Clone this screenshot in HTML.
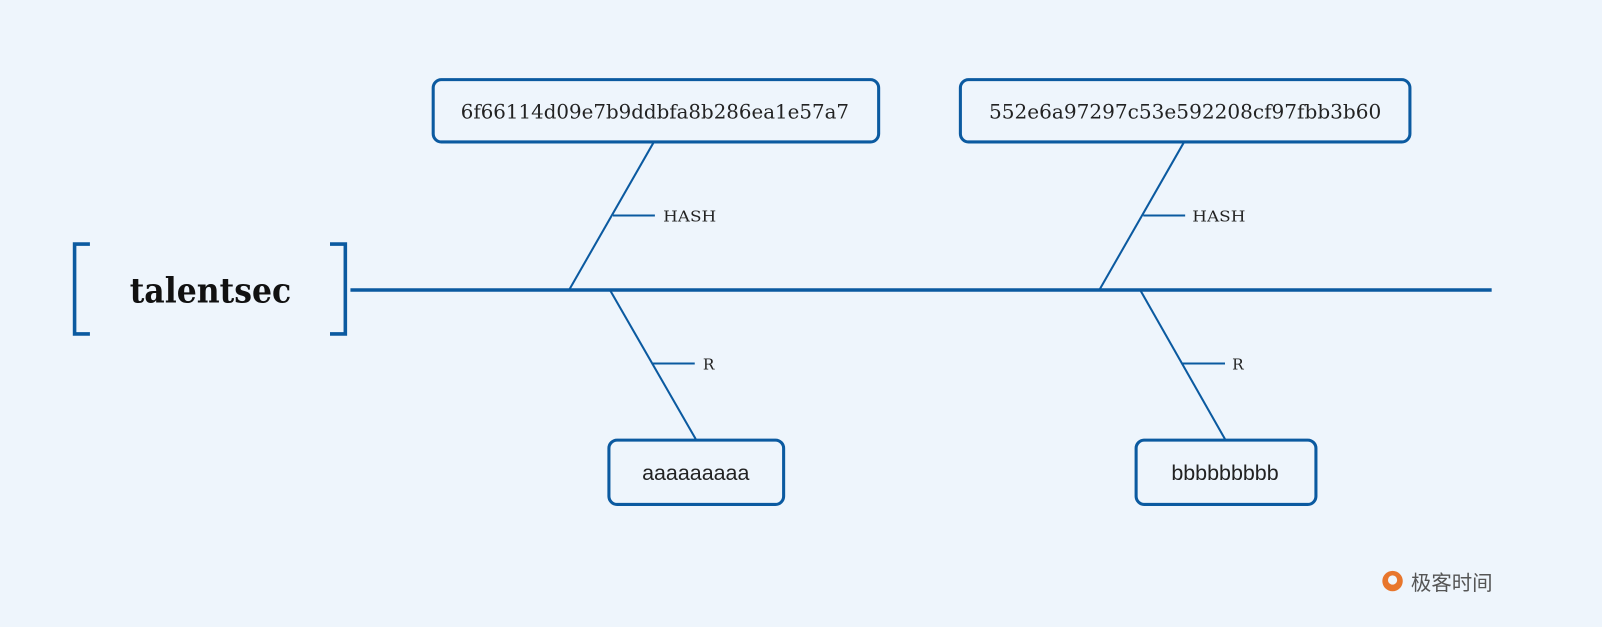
<!DOCTYPE html>
<html><head><meta charset="utf-8"><style>
html,body{margin:0;padding:0;background:#EEF5FC;}
svg{display:block}
</style></head><body>
<svg width="1602" height="627" viewBox="0 0 1568 614" preserveAspectRatio="none" xmlns="http://www.w3.org/2000/svg">
<rect width="1568" height="614" fill="#EEF5FC"/>
<g fill="none" stroke="#0B5AA0">
<path d="M88 239 H73 V327 H88" stroke-width="3.5"/>
<path d="M323 239 H338 V327 H323" stroke-width="3.5"/>
<line x1="343" y1="284" x2="1460" y2="284" stroke-width="3.5"/>
<g stroke-width="2">
<line x1="557" y1="284" x2="640" y2="139"/><line x1="600" y1="211" x2="641" y2="211"/>
<line x1="1076" y1="284" x2="1159" y2="139"/><line x1="1119" y1="211" x2="1160" y2="211"/>
<line x1="597" y1="284" x2="681" y2="430"/><line x1="639" y1="356" x2="680" y2="356"/>
<line x1="1116" y1="284" x2="1199" y2="430"/><line x1="1157" y1="356" x2="1199" y2="356"/>
</g>
<g stroke-width="3" fill="#EEF5FC">
<rect x="424" y="78" width="436" height="61" rx="8"/>
<rect x="940" y="78" width="440" height="61" rx="8"/>
<rect x="596" y="431" width="171" height="63" rx="8"/>
<rect x="1112" y="431" width="176" height="63" rx="8"/>
</g>
</g>
<g font-family="'DejaVu Serif','Liberation Serif',serif" fill="#222">
<text x="206" y="296" font-size="34" font-weight="bold" text-anchor="middle" font-family="'DejaVu Serif',serif" fill="#111" textLength="158" lengthAdjust="spacingAndGlyphs">talentsec</text>
<text x="641" y="116" font-size="19" text-anchor="middle" textLength="380" lengthAdjust="spacingAndGlyphs">6f66114d09e7b9ddbfa8b286ea1e57a7</text>
<text x="1160" y="116" font-size="19" text-anchor="middle" textLength="384" lengthAdjust="spacingAndGlyphs">552e6a97297c53e592208cf97fbb3b60</text>
<text x="681" y="470" font-size="21" text-anchor="middle" font-family="'Liberation Sans',sans-serif">aaaaaaaaa</text>
<text x="1199" y="470" font-size="21" text-anchor="middle" font-family="'Liberation Sans',sans-serif">bbbbbbbbb</text>
<text x="649" y="217" font-size="15" textLength="52" lengthAdjust="spacingAndGlyphs">HASH</text>
<text x="1167" y="217" font-size="15" textLength="52" lengthAdjust="spacingAndGlyphs">HASH</text>
<text x="688" y="362" font-size="15">R</text>
<text x="1206" y="362" font-size="15">R</text>
</g>
<circle cx="1363" cy="569" r="10" fill="#E8762C"/>
<circle cx="1363" cy="568" r="4.5" fill="#EEF5FC"/>
<text x="1381" y="578" font-size="20" font-family="'Noto Sans CJK SC',sans-serif" fill="#555">极客时间</text>
</svg>
</body></html>
